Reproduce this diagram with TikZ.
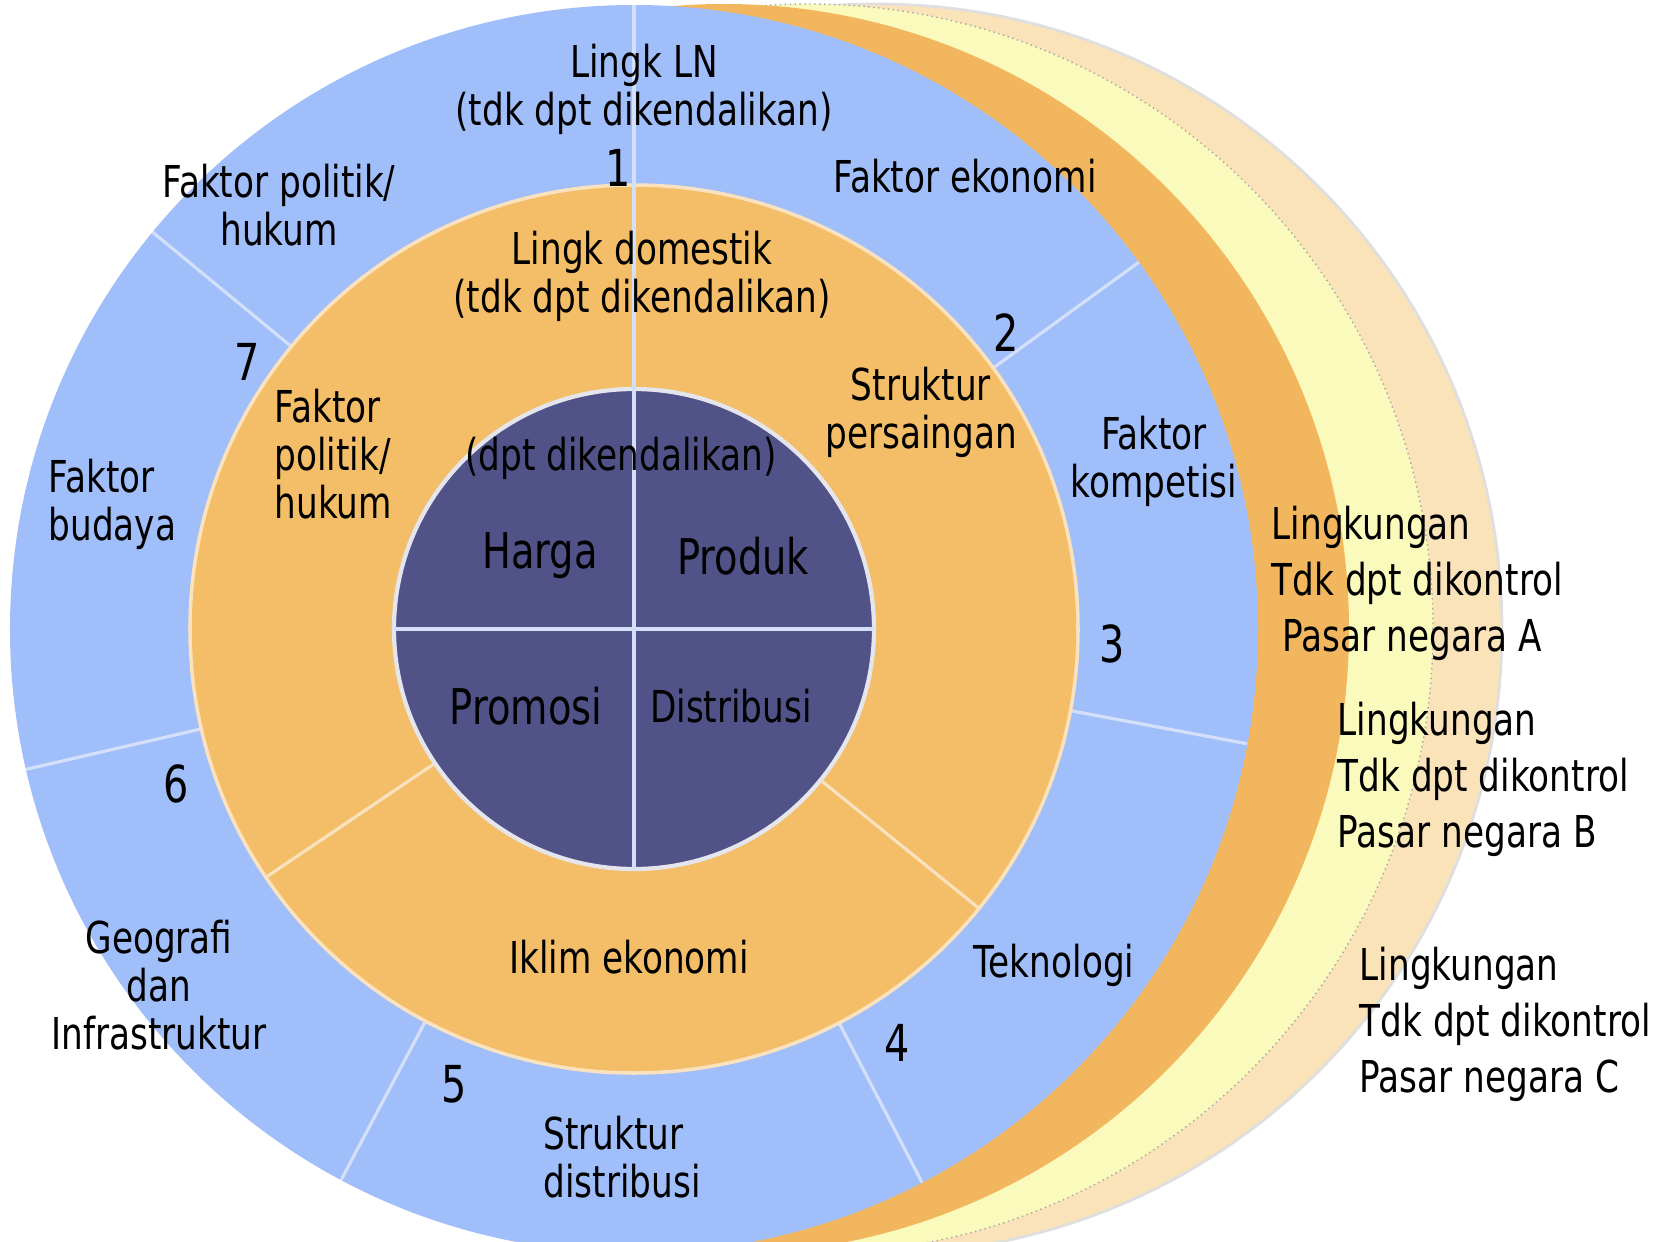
\documentclass[tikz,border=0pt]{standalone}
\usepackage{fontspec}
\setmainfont[FakeStretch=0.78]{DejaVu Sans}

\definecolor{ringblue}{RGB}{160,190,250}
\definecolor{ringorange}{RGB}{243,190,103}
\definecolor{moonorange}{RGB}{242,183,94}
\definecolor{moonyellow}{RGB}{250,250,188}
\definecolor{moonpeach}{RGB}{250,226,185}
\definecolor{corenavy}{RGB}{80,82,136}
\definecolor{bluesplit}{RGB}{212,224,250}
\definecolor{orangesplit}{RGB}{250,226,190}

\begin{document}
\begin{tikzpicture}[
  lbl/.style={font=\fontsize{12.5}{13.6}\selectfont, align=center, inner sep=0pt},
  lblleft/.style={lbl, align=left, anchor=west},
  lblwide/.style={font=\fontsize{12.5}{15.9}\selectfont, align=left, anchor=west, inner sep=0pt},
  num/.style={font=\fontsize{14.5}{15}\selectfont, inner sep=0pt},
  corelbl/.style={font=\fontsize{14}{15}\selectfont, inner sep=0pt},
  splitblue/.style={bluesplit, line width=0.9pt},
  splitorange/.style={orangesplit, line width=0.9pt}
]
\useasboundingbox (-6.34,-6.12) rectangle (10.35,6.29);
\clip (-6.34,-6.12) rectangle (10.35,6.29);

\fill[moonpeach] (2.43,0) circle (6.25);
\draw[gray!25, line width=0.8pt] (2.43,0) circle (6.25);
\fill[moonyellow] (1.74,0) circle (6.25);
\draw[gray!70, line width=0.4pt, densely dotted] (1.74,0) circle (6.25);
\fill[moonorange] (0.90,0) circle (6.25);

\fill[ringblue] (0,0) circle (6.24);
\draw[splitblue] (36:4.44) -- (36:6.24);
\draw[splitblue] (-10.6:4.44) -- (-10.6:6.24);
\draw[splitblue] (-62.5:4.44) -- (-62.5:6.24);
\draw[splitblue] (242:4.44) -- (242:6.24);
\draw[splitblue] (193:4.44) -- (193:6.24);
\draw[splitblue] (140.5:4.44) -- (140.5:6.24);

\fill[ringorange] (0,0) circle (4.44);
\draw[orangesplit, line width=1pt] (0,0) circle (4.44);
\draw[splitorange] (214:2.40) -- (214:4.44);
\draw[splitorange] (-39:2.40) -- (-39:4.44);

\fill[corenavy] (0,0) circle (2.40);
\draw[white!85!corenavy, line width=1.2pt] (0,0) circle (2.40);
\draw[bluesplit, line width=0.9pt] (-2.40,0) -- (2.40,0);
\draw[bluesplit, line width=0.9pt] (0,-2.40) -- (0,6.24);

\draw (0.10,5.40) node[lbl] (lingkln) {Lingk LN\\(tdk dpt dikendalikan)};
\draw (-3.55,4.24) node[lbl] (politikluar) {Faktor politik/\\hukum};
\draw (3.31,4.53) node[lbl] (ekonomi) {Faktor ekonomi};
\draw (5.20,1.68) node[lbl] (kompetisi) {Faktor\\kompetisi};
\draw (4.20,-3.36) node[lbl] (teknologi) {Teknologi};
\draw (-0.91,-5.28) node[lblleft] (strukdist) {Struktur\\distribusi};
\draw (-4.75,-3.56) node[lbl] (geografi) {Geografi\\dan\\Infrastruktur};
\draw (-5.86,1.25) node[lblleft] (budaya) {Faktor\\budaya};

\draw (0.08,3.53) node[lbl] (domestik) {Lingk domestik\\(tdk dpt dikendalikan)};
\draw (2.87,2.17) node[lbl] (persaingan) {Struktur\\persaingan};
\draw (-3.60,1.75) node[lblleft] (politikdalam) {Faktor\\politik/\\hukum};
\draw (-0.05,-3.28) node[lbl] (iklim) {Iklim ekonomi};

\draw (-0.13,1.71) node[lbl] (kendali) {(dpt dikendalikan)};
\draw (-0.94,0.73) node[corelbl] (harga) {Harga};
\draw (1.09,0.73) node[corelbl] (produk) {Produk};
\draw (-1.08,-0.77) node[corelbl] (promosi) {Promosi};
\draw (0.97,-0.77) node[lbl] (distribusi) {Distribusi};

\draw (-0.16,4.61) node[num] (n1) {1};
\draw (3.72,2.96) node[num] (n2) {2};
\draw (4.78,-0.15) node[num] (n3) {3};
\draw (2.63,-4.14) node[num] (n4) {4};
\draw (-1.80,-4.55) node[num] (n5) {5};
\draw (-4.58,-1.55) node[num] (n6) {6};
\draw (-3.87,2.67) node[num] (n7) {7};

\draw (6.37,0.455) node[lblwide] (negaraa) {Lingkungan\\Tdk dpt dikontrol\\\hspace*{0.11cm}Pasar negara A};
\draw (7.03,-1.50) node[lblwide] (negarab) {Lingkungan\\Tdk dpt dikontrol\\Pasar negara B};
\draw (7.25,-3.95) node[lblwide] (negarac) {Lingkungan\\Tdk dpt dikontrol\\Pasar negara C};

\end{tikzpicture}
\end{document}
